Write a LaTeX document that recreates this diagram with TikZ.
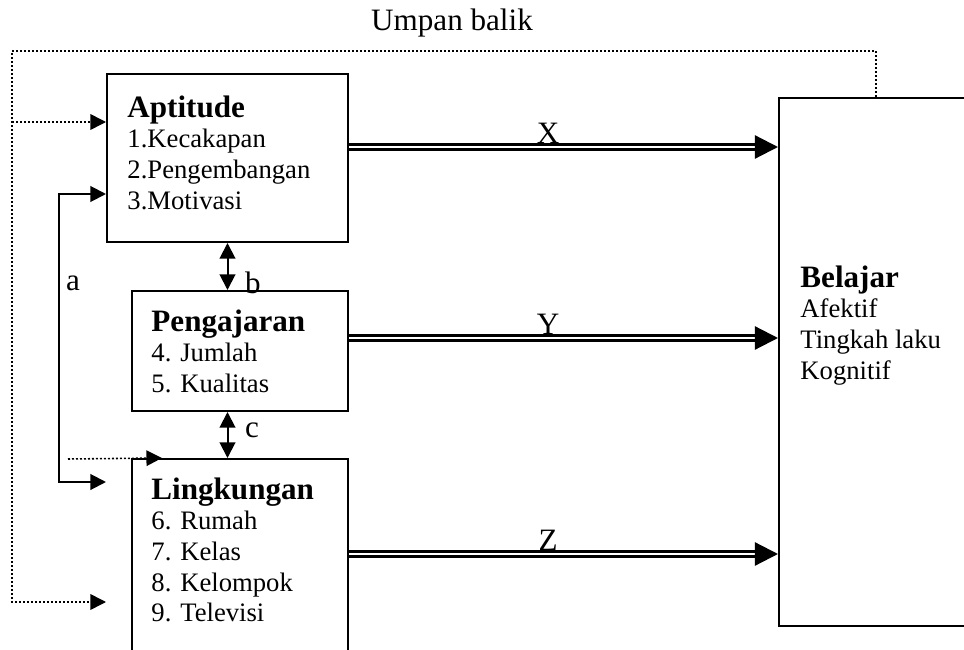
\documentclass[tikz,border=0pt]{standalone}
\usepackage{fontspec}
\setmainfont{Liberation Serif}
\usetikzlibrary{positioning,arrows.meta,calc}

\begin{document}
\begin{tikzpicture}[
    x=0.45pt, y=0.45pt,
    box/.style={draw, rectangle, line width=0.9pt, inner sep=0pt},
    txt/.style={anchor=north west, inner sep=0pt, align=left, font=\fontsize{12}{13.8}\selectfont},
    lbl/.style={inner sep=0pt, font=\fontsize{14}{16}\selectfont},
    arrow/.style={-{Triangle[length=7pt, width=7pt]}, line width=0.9pt},
    biarrow/.style={{Triangle[length=7pt, width=7pt]}-{Triangle[length=7pt, width=7pt]}, line width=0.9pt},
    dotarrow/.style={-{Triangle[length=7pt, width=7pt]}, line width=0.7pt, dash pattern=on 0.9pt off 0.9pt},
    dbl/.style={double, line width=1.1pt, double distance=1.1pt, shorten >=9pt},
    bigtip/.style={-{Triangle[length=10.4pt, width=10.4pt]}, line width=1pt}
]
\useasboundingbox (0,0) rectangle (964,649);

% Kotak-kotak
\node[box, minimum width=108.45pt, minimum height=75.6pt] (apt) at (227.5,491) {};
\node[box, minimum width=97.2pt, minimum height=54pt] (peng) at (240,298) {};
\node[box, minimum width=97.2pt, minimum height=117.45pt] (ling) at (240,59.5) {};
\node[box, minimum width=99.45pt, minimum height=237.4pt] (bel) at (889.5,287) {};

% Isi kotak
\node[txt] (apttxt) at ($(apt.north west)+(21,-22)$) {{\fontsize{14}{16}\selectfont\bfseries Aptitude}\\ 1.Kecakapan\\ 2.Pengembangan\\ 3.Motivasi};
\node[txt] (pengtxt) at ($(peng.north west)+(20,-19)$) {{\fontsize{14}{16}\selectfont\bfseries Pengajaran}\\ 4. Jumlah\\ 5. Kualitas};
\node[txt] (lingtxt) at ($(ling.north west)+(20,-19)$) {{\fontsize{14}{16}\selectfont\bfseries Lingkungan}\\ 6. Rumah\\ 7. Kelas\\ 8. Kelompok\\ 9. Televisi};
\node[txt] (beltxt) at ($(bel.north west)+(22,-168)$) {{\fontsize{14}{16}\selectfont\bfseries Belajar}\\ Afektif\\ Tingkah laku\\ Kognitif};

% Umpan balik (garis titik-titik)
\coordinate (fbkanan) at (876,598);
\coordinate (fbkiri) at (12,598);
\coordinate (aptin) at ($(apt.west)+(0,36)$);
\coordinate (lingin) at ($(apt.west |- ling.center)+(0,-12.5)$);
\coordinate (dotkiri) at (68,190);
\coordinate (lingatas) at ($(ling.north west)+(31,0)$);
\draw[dotarrow] (fbkanan |- bel.north) -- (fbkanan) -- (fbkiri) |- (lingin);
\draw[dotarrow] (fbkiri |- aptin) -- (aptin);
\draw[dotarrow] (dotkiri) -- (lingatas);
\node[lbl] (umpan) at (452,626) {Umpan balik};

% Hubungan a, b, c
\coordinate (aptin2) at ($(apt.west)+(0,-36)$);
\coordinate (lingin2) at ($(apt.west |- ling.center)+(0,107.5)$);
\draw[biarrow] (aptin2) -- ++(-47,0) |- (lingin2);
\draw[biarrow] (apt.south) -- (apt.south |- peng.north);
\draw[biarrow] (apt.south |- peng.south) -- (apt.south |- ling.north);
\node[lbl] (la) at (73,366) {a};
\node[lbl] (lb) at (253,366) {b};
\node[lbl] (lc) at (252,219) {c};

% Panah ganda X, Y, Z
\foreach \src/\dy/\lab in {apt/11/X, peng/13/Y, ling/35.5/Z}{
  \draw[dbl] ($(\src.east)+(0,\dy)$) coordinate (awal) -- (awal -| bel.west) coordinate (akhir)
    node[lbl, pos=0.464, above=1pt] (lab\lab) {\lab};
  \draw[bigtip] ($(akhir)+(-12,0)$) -- (akhir);
}

\end{tikzpicture}
\end{document}
